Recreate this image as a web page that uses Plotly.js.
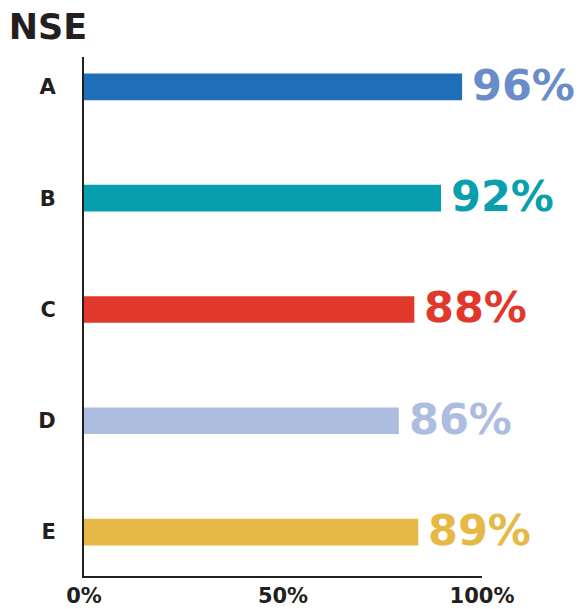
<!DOCTYPE html>
<html>
<head>
<meta charset="utf-8">
<script src="https://cdn.plot.ly/plotly-3.0.1.min.js"></script>
<style>html,body{margin:0;padding:0;background:#fff;}#chart{width:579px;height:609px;}</style>
</head>
<body>
<div id="chart"></div>
<script>
const categories = ["A", "B", "C", "D", "E"];
const barValues = [95, 89.7, 83, 79.1, 84];
const labelTexts = ["96%", "92%", "88%", "86%", "89%"];
const barColors = ["#1f6eb8", "#079fae", "#e0392b", "#adbde0", "#e6b947"];
const labelColors = ["#6a8cc8", "#0a9fad", "#e0392b", "#adbde0", "#e6b947"];
const xTickVals = [0, 50, 100];
const xTickText = ["0%", "50%", "100%"];

const FONT = "DejaVu Sans, sans-serif";

const trace = {
  type: "bar",
  orientation: "h",
  y: categories,
  x: barValues,
  width: 0.24,
  marker: {color: barColors, line: {width: 0}},
  hoverinfo: "none",
  cliponaxis: false
};

const annotations = categories.map((c, i) => ({
  x: barValues[i], y: c, xref: "x", yref: "y",
  text: labelTexts[i], showarrow: false,
  xanchor: "left", yanchor: "middle", xshift: 8, yshift: 2,
  font: {family: FONT, size: 43, color: labelColors[i], weight: 700}
}));

const layout = {
  width: 579, height: 609,
  margin: {l: 84, r: 97, t: 57, b: 33, pad: 0},
  paper_bgcolor: "#ffffff", plot_bgcolor: "#ffffff",
  showlegend: false,
  title: {
    text: "<b>NSE</b>", x: 0.015, xanchor: "left", xref: "container",
    y: 0.956, yanchor: "middle", yref: "container",
    font: {family: FONT, size: 35, color: "#231f20"}
  },
  xaxis: {
    range: [0, 100], tickvals: xTickVals, ticktext: xTickText,
    showgrid: false, zeroline: false, showline: true, linecolor: "#231f20", linewidth: 2,
    ticks: "", tickfont: {family: FONT, size: 21, color: "#231f20", weight: 700},
    ticklabelstandoff: 0, fixedrange: true
  },
  yaxis: {
    type: "category", categoryorder: "array", categoryarray: categories,
    range: [4.395, -0.269],
    showgrid: false, zeroline: false, showline: true, linecolor: "#231f20", linewidth: 2,
    ticks: "", tickfont: {family: FONT, size: 21, color: "#231f20", weight: 700},
    ticklabelstandoff: 22, fixedrange: true
  },
  annotations: annotations
};

Plotly.newPlot("chart", [trace], layout, {displayModeBar: false, staticPlot: true});
</script>
</body>
</html>
